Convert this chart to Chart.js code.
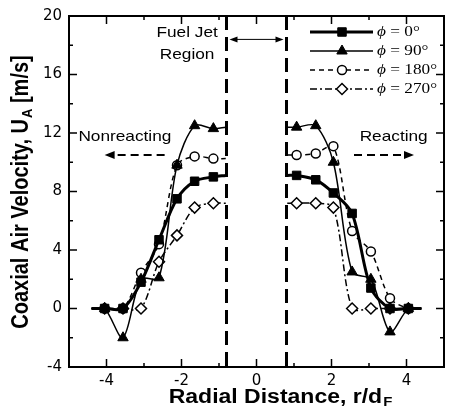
<!DOCTYPE html>
<html>
<head>
<meta charset="utf-8">
<script src="https://cdn.jsdelivr.net/npm/chart.js@4.4.0/dist/chart.umd.min.js"></script>
<style>
  html, body { margin: 0; padding: 0; background: #fff; }
</style>
</head>
<body>
<canvas id="velocityChart" width="449" height="414"></canvas>
<script>
"use strict";

// Radial positions r/dF. Left side = nonreacting, right side = reacting.
// First and last entry of each side are curve ends drawn without a marker.
const rLeft  = [-4.4, -4.05, -3.56, -3.08, -2.6, -2.12, -1.65, -1.15, -0.82];
const rRight = [0.82, 1.07, 1.58, 2.05, 2.55, 3.05, 3.56, 4.05, 4.4];

// Coaxial air velocity U_A [m/s] for each azimuth angle
const phi0Left     = [0, 0, 0, 1.8, 4.7, 7.5, 8.7, 9.0, 9.1];
const phi0Right    = [9.1, 9.1, 8.8, 7.9, 6.5, 1.4, 0, 0, 0];
const phi90Left    = [0, 0, -2.0, 2.0, 2.1, 9.8, 12.5, 12.3, 12.4];
const phi90Right   = [12.4, 12.4, 12.5, 10.0, 2.5, 2.0, -1.6, 0, 0];
const phi180Left   = [0, 0, 0, 2.45, 4.4, 9.8, 10.4, 10.25, 10.25];
const phi180Right  = [10.5, 10.5, 10.6, 11.1, 5.3, 3.9, 0.7, 0, 0];
const phi270Left   = [0, 0, 0, 0, 3.2, 5.0, 6.9, 7.2, 7.2];
const phi270Right  = [7.2, 7.2, 7.2, 6.9, 0, 0, 0, 0, 0];

const seriesLabels = ["0°", "90°", "180°", "270°"];

// Axis ticks
const xTickLabels = [-4, -2, 0, 2, 4];
const yTicks = [-4, 0, 4, 8, 12, 16, 20];

// Fuel jet region boundaries (r/dF)
const jetEdges = [-0.8, 0.8];

function side(xs, ys) {
  return xs.map((x, i) => ({ x: x, y: ys[i] }));
}

function series(left, right) {
  return side(rLeft, left).concat([{ x: 0, y: null }], side(rRight, right));
}

// no marker on curve ends and on the gap
function markerRadius(r) {
  return function(ctx) {
    const i = ctx.dataIndex;
    return (i === 0 || i === 8 || i === 9 || i === 10 || i === 18) ? 0 : r;
  };
}

const datasets = [
  {
    label: seriesLabels[0],
    data: series(phi0Left, phi0Right),
    borderColor: "#000", backgroundColor: "#000",
    borderWidth: 3, tension: 0.3,
    pointStyle: "rect", pointRadius: markerRadius(6),
    pointBackgroundColor: "#000", pointBorderColor: "#000", pointBorderWidth: 1
  },
  {
    label: seriesLabels[1],
    data: series(phi90Left, phi90Right),
    borderColor: "#000", backgroundColor: "#000",
    borderWidth: 1.5, tension: 0.3,
    pointStyle: "triangle", pointRadius: markerRadius(6),
    pointBackgroundColor: "#000", pointBorderColor: "#000", pointBorderWidth: 1
  },
  {
    label: seriesLabels[2],
    data: series(phi180Left, phi180Right),
    borderColor: "#000", backgroundColor: "#fff",
    borderWidth: 1.5, borderDash: [5, 4], tension: 0.3,
    pointStyle: "circle", pointRadius: markerRadius(4.5),
    pointBackgroundColor: "#fff", pointBorderColor: "#000", pointBorderWidth: 1.5
  },
  {
    label: seriesLabels[3],
    data: series(phi270Left, phi270Right),
    borderColor: "#000", backgroundColor: "#fff",
    borderWidth: 1.5, borderDash: [7, 3, 2, 3], tension: 0.3,
    pointStyle: "rectRot", pointRadius: markerRadius(5.5),
    pointBackgroundColor: "#fff", pointBorderColor: "#000", pointBorderWidth: 1.5
  }
];

// text slightly widened like the scanned figure
function wideText(ctx, text, x, y, align, sx) {
  ctx.save();
  ctx.translate(x, y);
  ctx.scale(sx || 1.15, 1);
  ctx.textAlign = align || "left";
  ctx.textBaseline = "middle";
  ctx.fillText(text, 0, 0);
  ctx.restore();
}

function arrowHead(ctx, x, y, dir, len, half) {
  ctx.beginPath();
  ctx.moveTo(x, y);
  ctx.lineTo(x - dir * len, y - half);
  ctx.lineTo(x - dir * len, y + half);
  ctx.closePath();
  ctx.fill();
}

const decorPlugin = {
  id: "decor",
  beforeDatasetsDraw(chart) {
    const ctx = chart.ctx;
    const a = chart.chartArea;
    const xs = chart.scales.x;
    const ys = chart.scales.y;
    ctx.save();
    ctx.strokeStyle = "#000";
    ctx.lineWidth = 2;
    ctx.strokeRect(a.left, a.top, a.right - a.left, a.bottom - a.top);

    // inward ticks on all four sides
    ctx.lineWidth = 1.5;
    ctx.beginPath();
    for (let v = -5; v <= 5; v++) {
      const len = v % 2 === 0 ? 8 : 4;
      const px = xs.getPixelForValue(v);
      ctx.moveTo(px, a.bottom); ctx.lineTo(px, a.bottom - len);
      ctx.moveTo(px, a.top); ctx.lineTo(px, a.top + len);
    }
    for (let v = -4; v <= 20; v += 2) {
      const len = v % 4 === 0 ? 8 : 4;
      const py = ys.getPixelForValue(v);
      ctx.moveTo(a.left, py); ctx.lineTo(a.left + len, py);
      ctx.moveTo(a.right, py); ctx.lineTo(a.right - len, py);
    }
    ctx.stroke();

    // fuel jet region boundaries
    ctx.lineWidth = 3;
    ctx.setLineDash([14, 7]);
    jetEdges.forEach(e => {
      const px = xs.getPixelForValue(e);
      ctx.beginPath();
      ctx.moveTo(px, a.top);
      ctx.lineTo(px, a.bottom);
      ctx.stroke();
    });
    ctx.restore();
  },
  afterDatasetsDraw(chart) {
    const ctx = chart.ctx;
    const a = chart.chartArea;
    const xs = chart.scales.x;
    const ys = chart.scales.y;
    ctx.save();
    ctx.fillStyle = "#000";
    ctx.strokeStyle = "#000";

    // "Fuel Jet Region" with double arrow
    ctx.font = "15px 'Liberation Sans', Arial, sans-serif";
    wideText(ctx, "Fuel Jet", xs.getPixelForValue(-1.85), ys.getPixelForValue(18.85), "center");
    wideText(ctx, "Region", xs.getPixelForValue(-1.85), ys.getPixelForValue(17.35), "center");
    const ay = ys.getPixelForValue(18.4);
    const ax1 = xs.getPixelForValue(-0.72);
    const ax2 = xs.getPixelForValue(0.72);
    ctx.lineWidth = 1;
    ctx.beginPath();
    ctx.moveTo(ax1 + 4, ay); ctx.lineTo(ax2 - 4, ay);
    ctx.stroke();
    arrowHead(ctx, ax1, ay, -1, 8, 3);
    arrowHead(ctx, ax2, ay, 1, 8, 3);

    // Nonreacting / Reacting labels with dashed arrows
    wideText(ctx, "Nonreacting", xs.getPixelForValue(-4.75), ys.getPixelForValue(11.75), "left");
    wideText(ctx, "Reacting", xs.getPixelForValue(2.75), ys.getPixelForValue(11.75), "left");
    const dy = ys.getPixelForValue(10.5);
    ctx.lineWidth = 2;
    ctx.setLineDash([8, 5]);
    ctx.beginPath();
    ctx.moveTo(xs.getPixelForValue(-2.45), dy); ctx.lineTo(xs.getPixelForValue(-3.75), dy);
    ctx.moveTo(xs.getPixelForValue(2.6), dy); ctx.lineTo(xs.getPixelForValue(3.9), dy);
    ctx.stroke();
    ctx.setLineDash([]);
    arrowHead(ctx, xs.getPixelForValue(-4.05), dy, -1, 10, 4);
    arrowHead(ctx, xs.getPixelForValue(4.2), dy, 1, 10, 4);

    // legend: line sample with marker, then label
    const lx1 = 310, lx2 = 373, mx = 342, tx = 377;
    const rowY = [32, 51, 70, 89];
    chart.data.datasets.forEach((ds, i) => {
      const y = rowY[i];
      ctx.lineWidth = ds.borderWidth;
      ctx.setLineDash(ds.borderDash || []);
      ctx.beginPath();
      ctx.moveTo(lx1, y); ctx.lineTo(lx2, y);
      ctx.stroke();
      ctx.setLineDash([]);
      ctx.fillStyle = ds.pointBackgroundColor;
      ctx.lineWidth = ds.pointBorderWidth;
      const r = ds.pointRadius({ dataIndex: 1 });
      Chart.helpers.drawPoint(ctx, { pointStyle: ds.pointStyle, radius: r, rotation: 0, borderWidth: ds.pointBorderWidth }, mx, y);
      ctx.fillStyle = "#000";
      ctx.font = "italic 15px 'Liberation Serif', 'Times New Roman', serif";
      wideText(ctx, "ϕ", tx, y, "left");
      const pw = ctx.measureText("ϕ").width * 1.15;
      ctx.font = "15px 'Liberation Serif', 'Times New Roman', serif";
      wideText(ctx, " = " + ds.label, tx + pw, y, "left");
    });

    // x axis title with subscript
    const xMain = "Radial Distance, r/d";
    const xFont = "bold 20px 'Liberation Sans', Arial, sans-serif";
    const subFont = "bold 13px 'Liberation Sans', Arial, sans-serif";
    ctx.font = xFont;
    const w1 = ctx.measureText(xMain).width * 1.15;
    ctx.font = subFont;
    const w2 = ctx.measureText("F").width * 1.15;
    const tcx = 280, tcy = 397;
    let sx = tcx - (w1 + w2) / 2;
    ctx.font = xFont;
    wideText(ctx, xMain, sx, tcy, "left");
    ctx.font = subFont;
    wideText(ctx, "F", sx + w1 + 1, tcy + 5, "left");

    // y axis title (rotated) with subscript
    const yA = "Coaxial Air Velocity, U";
    const yB = " [m/s]";
    ctx.save();
    ctx.translate(22, (a.top + a.bottom) / 2 + 1);
    ctx.rotate(-Math.PI / 2);
    ctx.scale(1, 1.15);
    ctx.font = xFont;
    const wa = ctx.measureText(yA).width;
    const wb = ctx.measureText(yB).width;
    ctx.font = subFont;
    const ws = ctx.measureText("A").width;
    let ps = -(wa + ws + wb) / 2;
    ctx.textBaseline = "middle";
    ctx.textAlign = "left";
    ctx.font = xFont;
    ctx.fillText(yA, ps, 0);
    ctx.font = subFont;
    ctx.fillText("A", ps + wa + 1, 5);
    ctx.font = xFont;
    ctx.fillText(yB, ps + wa + ws + 1, 0);
    ctx.restore();

    ctx.restore();
  }
};

new Chart(document.getElementById("velocityChart"), {
  type: "line",
  data: { datasets: datasets },
  options: {
    responsive: false,
    animation: false,
    devicePixelRatio: 1,
    spanGaps: false,
    layout: { padding: { left: 0, right: 3, top: 13, bottom: 0 } },
    plugins: { legend: { display: false }, tooltip: { enabled: false } },
    scales: {
      x: {
        type: "linear",
        min: -5, max: 5,
        grid: { display: false, drawTicks: false },
        border: { display: false },
        afterFit: s => { s.height = 47; },
        ticks: {
          stepSize: 1, autoSkip: false, maxRotation: 0, padding: 5,
          color: "#000",
          font: { family: "'DejaVu Sans', sans-serif", size: 15 },
          callback: v => (xTickLabels.includes(v) ? String(v) : "")
        }
      },
      y: {
        min: yTicks[0], max: yTicks[yTicks.length - 1],
        grid: { display: false, drawTicks: false },
        border: { display: false },
        afterFit: s => { s.width = 69; },
        ticks: {
          stepSize: 4, padding: 7,
          color: "#000",
          font: { family: "'DejaVu Sans', sans-serif", size: 15 },
          callback: v => (yTicks.includes(v) ? String(v) : "")
        }
      }
    }
  },
  plugins: [decorPlugin]
});
</script>
</body>
</html>
